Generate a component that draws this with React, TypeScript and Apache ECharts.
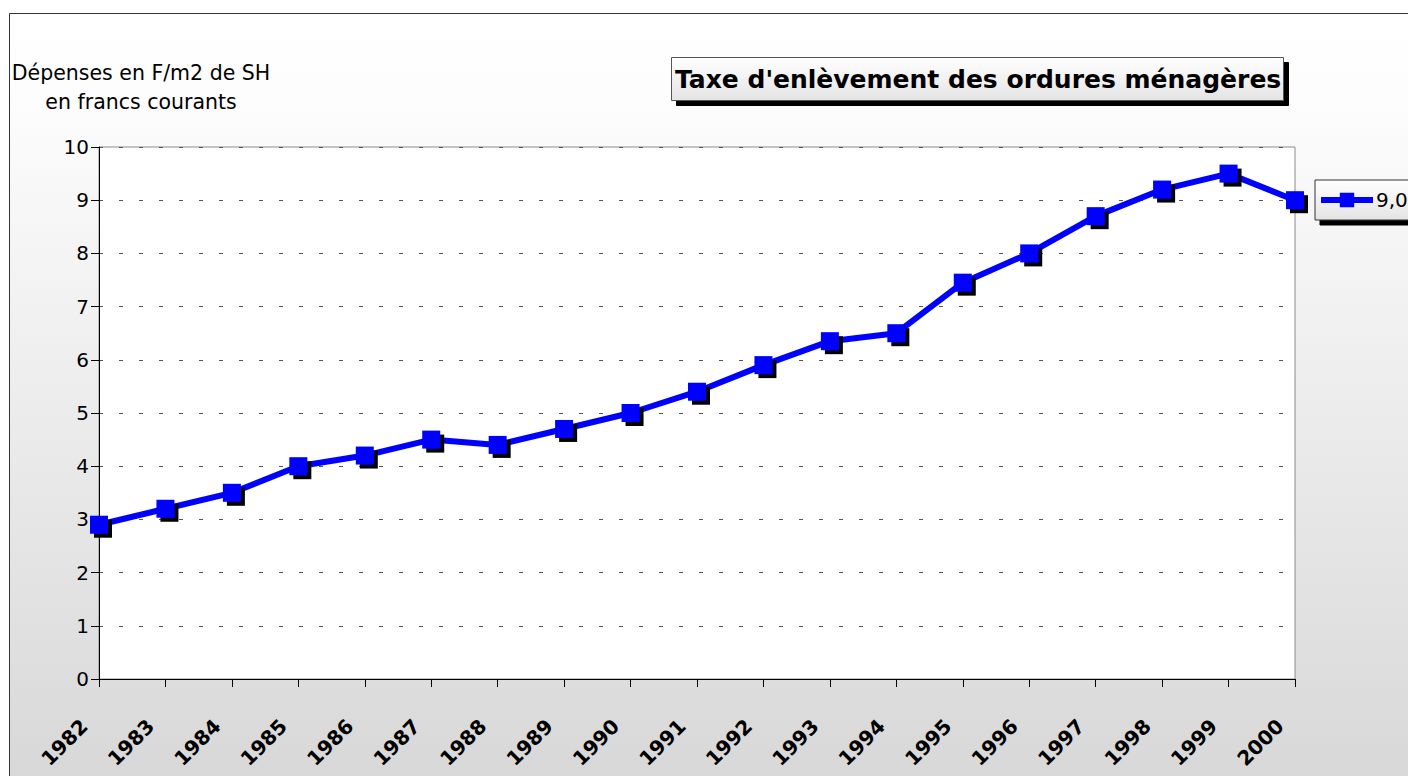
import React, { useEffect, useRef } from "react";
import * as echarts from "echarts";

const years = ["1982","1983","1984","1985","1986","1987","1988","1989","1990","1991","1992","1993","1994","1995","1996","1997","1998","1999","2000"];
const values = [2.9, 3.2, 3.5, 4.0, 4.2, 4.5, 4.4, 4.7, 5.0, 5.4, 5.9, 6.35, 6.5, 7.45, 8.0, 8.7, 9.2, 9.5, 9.0];
const seriesName = "9,0";
const titleText = "Taxe d'enlèvement des ordures ménagères";
const yAxisTitle = "Dépenses en F/m2 de SH\nen francs courants";

export default function App() {
  const ref = useRef<HTMLDivElement>(null);
  useEffect(() => {
    if (!ref.current) return;
    const chart = echarts.init(ref.current, null, { renderer: "svg" });
    const boxGrad = new echarts.graphic.LinearGradient(0, 0, 0, 1, [
      { offset: 0, color: "#ffffff" },
      { offset: 1, color: "#e4e4e4" },
    ]);
    chart.setOption({
      animation: false,
      backgroundColor: "transparent",
      textStyle: { fontFamily: "DejaVu Sans" },
      graphic: [
        {
          type: "rect",
          z: -100,
          silent: true,
          shape: { x: 9.5, y: 13.5, width: 1420, height: 800 },
          style: {
            fill: new echarts.graphic.LinearGradient(0, 0, 0, 1, [
              { offset: 0, color: "#ffffff" },
              { offset: 0.1, color: "#fdfdfd" },
              { offset: 1, color: "#d6d6d6" },
            ]),
            stroke: "#333333",
            lineWidth: 1,
          },
        },
      ],
      title: [
        {
          text: titleText,
          left: 671,
          top: 57,
          padding: [8, 3, 8, 4],
          backgroundColor: boxGrad,
          borderColor: "#555555",
          borderWidth: 1,
          shadowColor: "#000000",
          shadowOffsetX: 5,
          shadowOffsetY: 5,
          shadowBlur: 0,
          textStyle: {
            fontFamily: "DejaVu Sans",
            fontWeight: "bold",
            fontSize: 25,
            color: "#000000",
            lineHeight: 28,
          },
        },
        {
          text: yAxisTitle,
          left: 141,
          top: 58,
          textAlign: "center",
          padding: 0,
          textStyle: {
            fontFamily: "DejaVu Sans",
            fontWeight: "normal",
            fontSize: 20.5,
            color: "#000000",
            lineHeight: 29,
          },
        },
      ],
      legend: {
        left: 1315,
        top: 180,
        orient: "vertical",
        padding: [10, 40, 10, 3],
        itemWidth: 52,
        itemHeight: 18,
        itemGap: 4,
        backgroundColor: boxGrad,
        borderColor: "#333333",
        borderWidth: 1,
        shadowColor: "#000000",
        shadowOffsetX: 5,
        shadowOffsetY: 5,
        shadowBlur: 0,
        itemStyle: { shadowColor: "transparent", shadowOffsetX: 0, shadowOffsetY: 0 },
        lineStyle: { width: 6, color: "#0000ff" },
        textStyle: { fontFamily: "DejaVu Sans", fontSize: 20, color: "#000000", padding: [0, 0, 0, -2] },
        data: [seriesName],
      },
      grid: {
        left: 99,
        top: 147,
        right: 113,
        bottom: 97,
        show: true,
        backgroundColor: "#ffffff",
        borderColor: "#8a8a8a",
        borderWidth: 1,
      },
      xAxis: {
        type: "category",
        data: years,
        boundaryGap: false,
        axisLine: { show: true, lineStyle: { color: "#000000", width: 1 } },
        axisTick: { show: true, length: 8, lineStyle: { color: "#000000" } },
        axisLabel: {
          rotate: 45,
          margin: 29,
          padding: [0, 21, 0, 0],
          fontFamily: "DejaVu Sans",
          fontWeight: "bold",
          fontSize: 20,
          color: "#000000",
          interval: 0,
        },
        splitLine: { show: false },
      },
      yAxis: {
        type: "value",
        min: 0,
        max: 10,
        interval: 1,
        axisLine: { show: true, lineStyle: { color: "#000000", width: 1 } },
        axisTick: { show: true, length: 8, lineStyle: { color: "#000000" } },
        axisLabel: {
          margin: 10,
          fontFamily: "DejaVu Sans",
          fontSize: 20,
          color: "#000000",
        },
        splitLine: {
          show: true,
          lineStyle: { color: "#555555", width: 1, type: [4, 16] },
        },
      },
      series: [
        {
          name: seriesName,
          type: "line",
          data: values,
          symbol: "rect",
          symbolSize: 18,
          lineStyle: { color: "#0000ff", width: 6 },
          itemStyle: {
            color: "#0000ff",
            borderWidth: 0,
            shadowColor: "#000000",
            shadowOffsetX: 4,
            shadowOffsetY: 4,
            shadowBlur: 0,
          },
          emphasis: { disabled: true },
          clip: false,
        },
      ],
    });
    return () => chart.dispose();
  }, []);
  return (
    <div
      ref={ref}
      style={{ position: "absolute", left: 0, top: 0, width: 1408, height: 776 }}
    />
  );
}
